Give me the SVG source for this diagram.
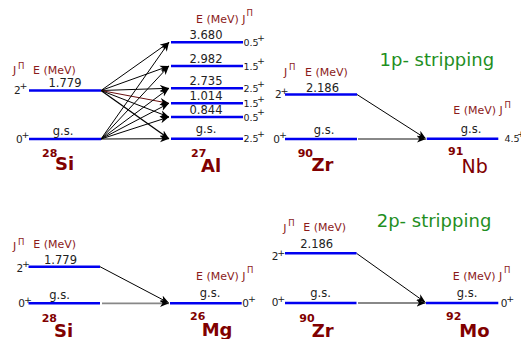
<svg xmlns="http://www.w3.org/2000/svg" width="521" height="339" viewBox="0 0 521 339">
<style>
text{font-family:"DejaVu Sans","Liberation Sans",sans-serif}
.lv{stroke:#0000f0;stroke-width:2.4;fill:none}
.num{font-size:11.5px;fill:#222}
.em{font-size:11px;fill:#8b1a1a}
.pi{font-size:8.5px;fill:#8b1a1a}
.sp{font-size:10.5px;fill:#222}
.sps{font-size:9.5px;fill:#222}
.pl{font-size:9.5px;fill:#222}
.nuc{font-size:18px;font-weight:bold;fill:#800000}
.nucr{font-size:19px;fill:#800000}
.ms{font-size:11px;font-weight:bold;fill:#800000}
.ttl{font-size:18px;fill:#1f8f1f}
.m{text-anchor:middle}
.ar{stroke:#000;stroke-width:1;fill:none;marker-end:url(#ah)}
.gr{stroke:#888;stroke-width:1.8;fill:none;marker-end:url(#ah)}
</style>
<defs>
<marker id="ah" viewBox="-9 -4 10 8" refX="0" refY="0" markerWidth="10" markerHeight="8" markerUnits="userSpaceOnUse" orient="auto">
<path d="M0,0 L-9,-3.6 L-6.5,0 L-9,3.6Z" fill="#000"/>
</marker>
</defs>
<rect width="521" height="339" fill="#fff"/>

<g id="connectors">
<!-- 28Si -> 27Al -->
<line class="ar" x1="101" y1="90.5" x2="169" y2="42.3"/>
<line class="ar" x1="101" y1="90.5" x2="169" y2="66"/>
<line class="ar" x1="101" y1="90.5" x2="169" y2="88.3"/>
<line class="ar" x1="101" y1="90.5" x2="169" y2="103.3" style="stroke:#6a1010"/>
<line class="ar" x1="101" y1="90.5" x2="169" y2="117"/>
<line class="ar" x1="101" y1="90.5" x2="169" y2="138.7" style="stroke-width:1.3"/>
<line class="ar" x1="101" y1="139" x2="169" y2="42.3"/>
<line class="ar" x1="101" y1="139" x2="169" y2="66"/>
<line class="ar" x1="101" y1="139" x2="169" y2="88.3"/>
<line class="ar" x1="101" y1="139" x2="169" y2="103.3"/>
<line class="ar" x1="101" y1="139" x2="169" y2="117"/>
<line class="ar" x1="101" y1="139" x2="169" y2="138.7"/>
<!-- 90Zr -> 91Nb -->
<line class="ar" x1="357" y1="94.5" x2="426" y2="138.7"/>
<line class="gr" x1="358" y1="139" x2="426" y2="139"/>
<!-- 28Si -> 26Mg -->
<line class="ar" x1="100" y1="266.7" x2="169" y2="303"/>
<line class="gr" x1="102" y1="303.3" x2="169" y2="303.3"/>
<!-- 90Zr -> 92Mo -->
<line class="ar" x1="356.5" y1="253.3" x2="425.5" y2="302.5"/>
<line class="gr" x1="358" y1="303" x2="425.5" y2="303"/>
</g>

<!-- ===== Top-left: 28Si ===== -->
<g id="si28a-header">
<text class="em" x="13" y="74">J</text><text class="pi" x="18" y="69">Π</text>
<text class="em" x="33" y="73.5">E (MeV)</text>
</g>
<g id="si28a-2plus">
<line class="lv" x1="29" y1="90.5" x2="101" y2="90.5"/>
<text class="num m" x="65" y="87">1.779</text>
<text class="sp" x="14" y="93.5">2</text><text class="pl" x="19.5" y="89">+</text>
</g>
<g id="si28a-gs">
<line class="lv" x1="29" y1="139" x2="101" y2="139"/>
<text class="num m" x="63" y="135">g.s.</text>
<text class="sp" x="16" y="142.5">0</text><text class="pl" x="21.5" y="137.5">+</text>
</g>
<g id="si28a-label">
<text class="ms" x="42" y="157">28</text><text class="nuc" x="55" y="170">Si</text>
</g>

<!-- ===== 27Al ===== -->
<g id="al27-header">
<text class="em" x="196" y="22.5">E (MeV) J</text><text class="pi" x="246.5" y="15.5">Π</text>
</g>
<g id="al27-3680">
<line class="lv" x1="171" y1="42.3" x2="243" y2="42.3"/>
<text class="num m" x="206" y="39.3">3.680</text>
<text class="sps" x="243.5" y="46">0.5</text><text class="pl" x="257" y="40.5">+</text>
</g>
<g id="al27-2982">
<line class="lv" x1="171" y1="66" x2="243" y2="66"/>
<text class="num m" x="206" y="63.3">2.982</text>
<text class="sps" x="243.5" y="69.7">1.5</text><text class="pl" x="257" y="64.2">+</text>
</g>
<g id="al27-2735">
<line class="lv" x1="171" y1="88.3" x2="243" y2="88.3"/>
<text class="num m" x="206" y="85">2.735</text>
<text class="sps" x="243.5" y="92">2.5</text><text class="pl" x="257" y="86.5">+</text>
</g>
<g id="al27-1014">
<line class="lv" x1="171" y1="103.3" x2="243" y2="103.3"/>
<text class="num m" x="206" y="100">1.014</text>
<text class="sps" x="243.5" y="107">1.5</text><text class="pl" x="257" y="101.5">+</text>
</g>
<g id="al27-0844">
<line class="lv" x1="171" y1="117" x2="243" y2="117"/>
<text class="num m" x="206" y="114">0.844</text>
<text class="sps" x="243.5" y="120.7">0.5</text><text class="pl" x="257" y="115.2">+</text>
</g>
<g id="al27-gs">
<line class="lv" x1="171" y1="138.7" x2="243" y2="138.7"/>
<text class="num m" x="206" y="133.3">g.s.</text>
<text class="sps" x="243.5" y="142.4">2.5</text><text class="pl" x="257" y="136.9">+</text>
</g>
<g id="al27-label">
<text class="ms" x="191" y="157.3">27</text><text class="nuc" x="201" y="171.7">Al</text>
</g>

<!-- ===== Top-right: 90Zr -> 91Nb ===== -->
<text class="ttl" x="379.5" y="66">1p- stripping</text>
<g id="zr90a-header">
<text class="em" x="284" y="75.5">J</text><text class="pi" x="289" y="70">Π</text>
<text class="em" x="305" y="75.7">E (MeV)</text>
</g>
<g id="zr90a-2plus">
<line class="lv" x1="285" y1="94.5" x2="357" y2="94.5"/>
<text class="num m" x="322.5" y="91.7">2.186</text>
<text class="sp" x="275" y="98.3">2</text><text class="pl" x="280.5" y="93.8">+</text>
</g>
<g id="zr90a-gs">
<line class="lv" x1="285" y1="139" x2="357" y2="139"/>
<text class="num m" x="324" y="134">g.s.</text>
<text class="sp" x="273.3" y="142.5">0</text><text class="pl" x="279" y="138">+</text>
</g>
<g id="zr90a-label">
<text class="ms" x="297.7" y="156.7">90</text><text class="nuc" x="311.5" y="171">Zr</text>
</g>
<g id="nb91-header">
<text class="em" x="453.3" y="114">E (MeV) J</text><text class="pi" x="504.5" y="107.5">Π</text>
</g>
<g id="nb91-gs">
<line class="lv" x1="426.7" y1="138.7" x2="498.3" y2="138.7"/>
<text class="num m" x="471" y="132.7">g.s.</text>
<text class="sps" x="504.5" y="142">4.5</text><text class="pl" x="517" y="136.5">+</text>
</g>
<g id="nb91-label">
<text class="ms" x="448" y="155">91</text><text class="nucr" x="461.5" y="172.7">Nb</text>
</g>

<!-- ===== Bottom-left: 28Si -> 26Mg ===== -->
<g id="si28b-header">
<text class="em" x="13" y="250">J</text><text class="pi" x="18" y="244.5">Π</text>
<text class="em" x="33.3" y="247.7">E (MeV)</text>
</g>
<g id="si28b-2plus">
<line class="lv" x1="28.5" y1="266.7" x2="100" y2="266.7"/>
<text class="num m" x="60.5" y="264">1.779</text>
<text class="sp" x="16.5" y="271.7">2</text><text class="pl" x="22" y="267.2">+</text>
</g>
<g id="si28b-gs">
<line class="lv" x1="28.5" y1="303.3" x2="100" y2="303.3"/>
<text class="num m" x="59.5" y="299">g.s.</text>
<text class="sp" x="18.3" y="307.3">0</text><text class="pl" x="24" y="302.8">+</text>
</g>
<g id="si28b-label">
<text class="ms" x="41.7" y="322.3">28</text><text class="nuc" x="54" y="336.5">Si</text>
</g>
<g id="mg26-header">
<text class="em" x="196" y="280">E (MeV) J</text><text class="pi" x="247" y="273">Π</text>
</g>
<g id="mg26-gs">
<line class="lv" x1="170" y1="303.3" x2="241.7" y2="303.3"/>
<text class="num m" x="210" y="297.3">g.s.</text>
<text class="sp" x="242.3" y="306.7">0</text><text class="pl" x="248" y="302.2">+</text>
</g>
<g id="mg26-label">
<text class="ms" x="190" y="319.5">26</text><text class="nuc" x="201.7" y="335.5">Mg</text>
</g>

<!-- ===== Bottom-right: 90Zr -> 92Mo ===== -->
<text class="ttl" x="376.7" y="226.7">2p- stripping</text>
<g id="zr90b-header">
<text class="em" x="283.3" y="231.7">J</text><text class="pi" x="288.3" y="226.2">Π</text>
<text class="em" x="303.3" y="230.7">E (MeV)</text>
</g>
<g id="zr90b-2plus">
<line class="lv" x1="285" y1="253.3" x2="356.5" y2="253.3"/>
<text class="num m" x="316.7" y="248.3">2.186</text>
<text class="sp" x="271.7" y="260">2</text><text class="pl" x="277.3" y="255.5">+</text>
</g>
<g id="zr90b-gs">
<line class="lv" x1="285" y1="303" x2="356.5" y2="303"/>
<text class="num m" x="320.5" y="297.3">g.s.</text>
<text class="sp" x="271.7" y="306">0</text><text class="pl" x="277.3" y="301.5">+</text>
</g>
<g id="zr90b-label">
<text class="ms" x="299.3" y="321.7">90</text><text class="nuc" x="311.7" y="336.5">Zr</text>
</g>
<g id="mo92-header">
<text class="em" x="452.7" y="280">E (MeV) J</text><text class="pi" x="504" y="273">Π</text>
</g>
<g id="mo92-gs">
<line class="lv" x1="426" y1="303" x2="498.3" y2="303"/>
<text class="num m" x="467" y="296.7">g.s.</text>
<text class="sp" x="500.7" y="306.7">0</text><text class="pl" x="506.3" y="302.2">+</text>
</g>
<g id="mo92-label">
<text class="ms" x="446" y="320">92</text><text class="nuc" x="459.3" y="336.5">Mo</text>
</g>
</svg>
